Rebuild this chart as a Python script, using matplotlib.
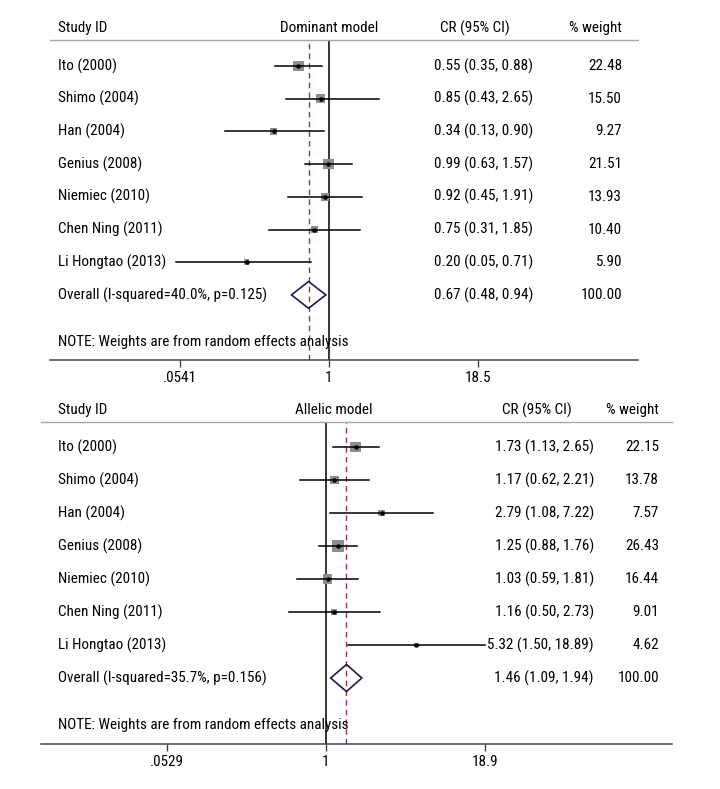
"""Two stacked forest plots (dominant and allelic model), Stata-like layout."""

import numpy as np
import matplotlib
matplotlib.use("Agg")
import matplotlib.pyplot as plt
from matplotlib import font_manager
from matplotlib.patches import Polygon
from matplotlib.transforms import blended_transform_factory

studies = ["Ito (2000)", "Shimo (2004)", "Han (2004)", "Genius (2008)",
           "Niemiec (2010)", "Chen Ning (2011)", "Li Hongtao (2013)"]

# dominant model
dom_or = [0.55, 0.85, 0.34, 0.99, 0.92, 0.75, 0.20]
dom_lo = [0.35, 0.43, 0.13, 0.63, 0.45, 0.31, 0.05]
dom_hi = [0.88, 2.65, 0.90, 1.57, 1.91, 1.85, 0.71]
dom_w = [22.48, 15.50, 9.27, 21.51, 13.93, 10.40, 5.90]
dom_overall = (0.67, 0.48, 0.94)
dom_het = "Overall (I-squared=40.0%, p=0.125)"
dom_ticks = [0.0541, 1, 18.5]
dom_ticklabels = [".0541", "1", "18.5"]

# allelic model
all_or = [1.73, 1.17, 2.79, 1.25, 1.03, 1.16, 5.32]
all_lo = [1.13, 0.62, 1.08, 0.88, 0.59, 0.50, 1.50]
all_hi = [2.65, 2.21, 7.22, 1.76, 1.81, 2.73, 18.89]
all_w = [22.15, 13.78, 7.57, 26.43, 16.44, 9.01, 4.62]
all_overall = (1.46, 1.09, 1.94)
all_het = "Overall (I-squared=35.7%, p=0.156)"
all_ticks = [0.0529, 1, 18.9]
all_ticklabels = [".0529", "1", "18.9"]

W, H = 720, 789
SQ_C, DIA_C, REF_C = "#8e8e8e", "#1c1c50", "#a3313c"

# the original uses a condensed face; take the narrowest one we have
names = {f.name for f in font_manager.fontManager.ttflist}
narrow = [n for n in ["Liberation Sans Narrow", "Roboto Condensed",
                      "Open Sans Condensed", "Noto Sans Condensed"] if n in names]
plt.rcParams["font.family"] = narrow[:1] + ["DejaVu Sans"]
plt.rcParams["font.stretch"] = "condensed"

fig = plt.figure(figsize=(W / 100, H / 100), dpi=100)


def text_width(s, size=10):
    t = fig.text(0, 0, s, fontsize=size)
    wpx = t.get_window_extent(fig.canvas.get_renderer()).width
    t.remove()
    return wpx


# fit the font size so the labels are about as wide as in the original
fit_a = 10 * 216 / text_width(dom_het)
fit_b = 10 * 101 / text_width("5.32 (1.50, 18.89)")
FS = min(11.5, 0.5 * (fit_a + fit_b))


def px_axes(x0, x1, y0, y1):
    return fig.add_axes([x0 / W, 1 - y1 / H, (x1 - x0) / W, (y1 - y0) / H])


def forest(ax, title, ors, lo, hi, w, overall, het, ticks, ticklabels,
           xlim, ylim, colx, note_y):
    x0_px, x1_px = colx["ax"]
    fx = lambda p: (p - x0_px) / (x1_px - x0_px)
    tr = blended_transform_factory(ax.transAxes, ax.transData)

    ax.set_xscale("log")
    ax.set_xlim(*xlim)
    ax.set_ylim(*ylim)
    ax.minorticks_off()

    rows = np.arange(1, len(ors) + 1)
    for r, l, h in zip(rows, lo, hi):
        ax.plot([l, h], [r, r], color="black", lw=1.1, zorder=3)
    ax.scatter(ors, rows, marker="s", s=2.6 * np.array(w), color=SQ_C,
               edgecolors="none", zorder=2)
    ax.scatter(ors, rows, marker="o", s=5, color="black", zorder=4)

    ov_y = len(ors) + 1
    est, olo, ohi = overall
    ax.add_patch(Polygon([(olo, ov_y), (est, ov_y - 0.41), (ohi, ov_y),
                          (est, ov_y + 0.41)], closed=True, fill=False,
                         edgecolor=DIA_C, lw=1.2, zorder=4))

    ax.axvline(1, color="black", lw=1.1, zorder=1)
    ax.axvline(est, color=REF_C, lw=1.0, ls=(0, (4, 3)), zorder=1)

    for s in ["left", "right"]:
        ax.spines[s].set_visible(False)
    ax.spines["top"].set_color("#a8a8a8")
    ax.spines["top"].set_linewidth(1.0)
    ax.spines["bottom"].set_color("#444444")
    ax.spines["bottom"].set_linewidth(1.1)
    ax.set_yticks([])
    ax.set_xticks(ticks)
    ax.set_xticklabels(ticklabels)
    ax.tick_params(axis="x", length=5, width=1, color="#444444",
                   labelsize=FS, pad=3)

    labels = studies + [het]
    ci = [f"{o:.2f} ({l:.2f}, {h:.2f})" for o, l, h in zip(ors, lo, hi)]
    ci.append(f"{est:.2f} ({olo:.2f}, {ohi:.2f})")
    wt = [f"{v:.2f}" for v in w] + ["100.00"]
    for r, lab, c, v in zip(range(1, ov_y + 1), labels, ci, wt):
        ax.text(fx(colx["study"]), r, lab, transform=tr, ha="left",
                va="center", fontsize=FS)
        ax.text(fx(colx["ci_r"]), r, c, transform=tr, ha="right",
                va="center", fontsize=FS)
        ax.text(fx(colx["w_r"]), r, v, transform=tr, ha="right",
                va="center", fontsize=FS)
    ax.text(fx(colx["study"]), note_y,
            "NOTE: Weights are from random effects analysis", transform=tr,
            ha="left", va="center", fontsize=FS)

    head_y = 1.0 + 12.0 / colx["h_px"]
    ax.text(fx(colx["study"]), head_y, "Study ID", transform=ax.transAxes,
            ha="left", va="center", fontsize=FS)
    ax.text(fx(colx["title_c"]), head_y, title, transform=ax.transAxes,
            ha="center", va="center", fontsize=FS)
    ax.text(fx(colx["ci_l"]), head_y, "CR (95% CI)", transform=ax.transAxes,
            ha="left", va="center", fontsize=FS)
    ax.text(fx(colx["w_r"]), head_y, "% weight", transform=ax.transAxes,
            ha="right", va="center", fontsize=FS)


ax1 = px_axes(50, 638, 40, 360)
forest(ax1, "Dominant model", dom_or, dom_lo, dom_hi, dom_w, dom_overall,
       dom_het, dom_ticks, dom_ticklabels,
       xlim=(np.exp(-279 / 51.1), np.exp(309 / 51.1)),
       ylim=(9.99, 0.205),
       colx={"ax": (50, 638), "study": 58, "title_c": 329, "ci_l": 440,
             "ci_r": 533, "w_r": 622, "h_px": 320},
       note_y=9.44)

ax2 = px_axes(41, 672, 422, 744)
forest(ax2, "Allelic model", all_or, all_lo, all_hi, all_w, all_overall,
       all_het, all_ticks, all_ticklabels,
       xlim=(np.exp(-285 / 54.1), np.exp(346 / 54.1)),
       ylim=(10.0, 0.242),
       colx={"ax": (41, 672), "study": 58, "title_c": 334, "ci_l": 502,
             "ci_r": 594, "w_r": 659, "h_px": 322},
       note_y=9.42)

fig.savefig("out.png", dpi=100)
